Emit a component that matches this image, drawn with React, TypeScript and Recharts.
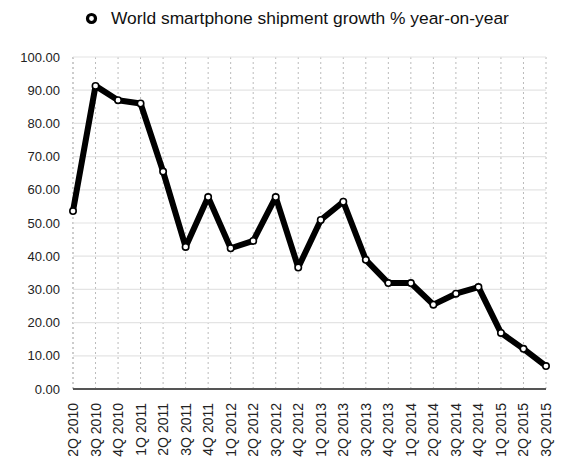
import { LineChart, Line, CartesianGrid, XAxis, YAxis, Legend } from "recharts";

// Quarter labels along the x axis
const quarters = [
  "2Q 2010", "3Q 2010", "4Q 2010",
  "1Q 2011", "2Q 2011", "3Q 2011", "4Q 2011",
  "1Q 2012", "2Q 2012", "3Q 2012", "4Q 2012",
  "1Q 2013", "2Q 2013", "3Q 2013", "4Q 2013",
  "1Q 2014", "2Q 2014", "3Q 2014", "4Q 2014",
  "1Q 2015", "2Q 2015", "3Q 2015",
];

// Growth % year-on-year
const growth = [
  53.6, 91.3, 87.0,
  86.0, 65.5, 42.8, 57.8,
  42.4, 44.6, 57.8, 36.6,
  50.9, 56.4, 38.9, 31.9,
  31.9, 25.4, 28.7, 30.7,
  16.9, 12.1, 6.9,
];

const yTicks = [0, 10, 20, 30, 40, 50, 60, 70, 80, 90, 100];

const SERIES_NAME = "World smartphone shipment growth % year-on-year";
const FONT = "'Liberation Sans', Arial, Helvetica, sans-serif";

const data = quarters.map((q, i) => ({ quarter: q, growth: growth[i] }));

function QuarterTick({ x, y, payload }: any) {
  return (
    <text
      x={x}
      y={y + 6}
      transform={`rotate(-90, ${x}, ${y + 6})`}
      textAnchor="end"
      dominantBaseline="central"
      fontSize={14}
      fontFamily={FONT}
      fill="#222"
    >
      {payload.value}
    </text>
  );
}

function LegendBox() {
  return (
    <div
      style={{
        display: "flex",
        alignItems: "center",
        fontFamily: FONT,
        fontSize: 17.4,
        lineHeight: "20px",
        color: "#111",
        marginLeft: 85,
      }}
    >
      <svg width={13} height={13} style={{ marginRight: 13 }}>
        <circle cx={6.5} cy={6.5} r={4} fill="#fff" stroke="#000" strokeWidth={3.2} />
      </svg>
      <span>{SERIES_NAME}</span>
    </div>
  );
}

export default function App() {
  return (
    <div style={{ position: "absolute", left: 0, top: 0, background: "#fff" }}>
      <LineChart
        width={584}
        height={472}
        data={data}
        margin={{ top: 37, right: 38, bottom: 0, left: 0 }}
      >
        <CartesianGrid
          horizontal={false}
          stroke="#bbb"
          strokeDasharray="2 3"
        />
        <CartesianGrid vertical={false} stroke="#e4e4e4" strokeWidth={1.2} />
        <XAxis
          dataKey="quarter"
          interval={0}
          height={83}
          tick={<QuarterTick />}
          tickLine={false}
          axisLine={{ stroke: "#555", strokeWidth: 2 }}
        />
        <YAxis
          domain={[0, 100]}
          ticks={yTicks}
          interval={0}
          width={73}
          tickFormatter={(v: number) => v.toFixed(2)}
          tickSize={6}
          tickMargin={7}
          tickLine={false}
          axisLine={false}
          tick={{ fontSize: 13, fontFamily: FONT, fill: "#222" }}
        />
        <Legend
          verticalAlign="top"
          align="left"
          wrapperStyle={{ top: 8, left: 0 }}
          content={<LegendBox />}
        />
        <Line
          type="linear"
          dataKey="growth"
          name={SERIES_NAME}
          stroke="#000"
          strokeWidth={6}
          strokeLinejoin="round"
          dot={{ r: 3.2, fill: "#fff", stroke: "#000", strokeWidth: 1.6 }}
          activeDot={false}
          isAnimationActive={false}
        />
      </LineChart>
    </div>
  );
}
